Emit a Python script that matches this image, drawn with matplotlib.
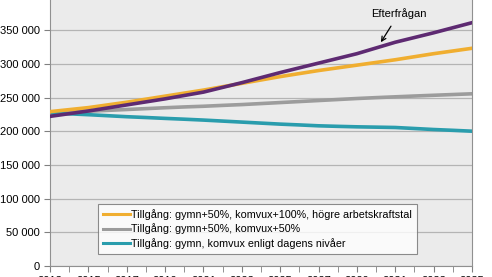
"""Tillgång och efterfrågan 2013-2035, tre tillgångsscenarier mot efterfrågan."""
import numpy as np, matplotlib
matplotlib.use("Agg")
import matplotlib.pyplot as plt
from matplotlib.ticker import MultipleLocator, FuncFormatter

years = list(range(2013, 2036))
efterfragan = [222000, 226000, 230000, 234500, 239000, 243500, 248000, 253000, 258000, 265000,
               272000, 279500, 287000, 294000, 301000, 308000, 315000, 323500, 332000, 339000,
               346000, 353500, 361000]
hog = [229000, 232000, 235000, 239000, 243000, 247500, 252000, 256500, 261000, 266000,
       271000, 276000, 281000, 285500, 290000, 294000, 298000, 302000, 306000, 310500,
       315000, 319000, 323000]
mellan = [227000, 228300, 229600, 230900, 232200, 233500, 234800, 236000, 237000, 238300,
          239500, 241000, 242500, 244000, 245500, 247000, 248500, 249800, 251000, 252200,
          253300, 254400, 255500]
dagens = [227000, 225800, 224500, 223000, 221500, 220300, 219000, 217800, 216500, 215000,
          213500, 212000, 210500, 209300, 208000, 207200, 206500, 206000, 205500, 204000,
          202500, 201300, 200000]
labels = ["Tillgång: gymn+50%, komvux+100%, högre arbetskraftstal",
          "Tillgång: gymn+50%, komvux+50%",
          "Tillgång: gymn, komvux enligt dagens nivåer"]

plt.rcParams.update({"font.family": ["Liberation Sans", "DejaVu Sans"], "font.size": 8})

W, H = 492, 277
fig = plt.figure(figsize=(W / 100, H / 100), dpi=100)
ax = fig.add_axes([50 / W, 11 / H, 422 / W, (266 + 3.6) / H])
ax.set_facecolor("#ebebeb")

ax.plot(years, efterfragan, color="#5e2a72", lw=2.6, zorder=4)
l1, = ax.plot(years, hog, color="#f0ae30", lw=2.6, zorder=3)
l2, = ax.plot(years, mellan, color="#9c9c9c", lw=2.6, zorder=2)
l3, = ax.plot(years, dagens, color="#2a9dad", lw=2.6, zorder=2)

ax.set_xlim(2013, 2035)
ax.set_ylim(0, 400000)
ax.set_xticks(years[::2])
ax.xaxis.set_minor_locator(MultipleLocator(1))
ax.yaxis.set_major_locator(MultipleLocator(50000))
ax.yaxis.set_major_formatter(FuncFormatter(lambda v, p: f"{int(v):,}".replace(",", " ")))
ax.grid(axis="y", color="#b4b4b4", lw=0.9)
ax.set_axisbelow(True)
for s in ["left", "bottom", "right"]:
    ax.spines[s].set_color("#909090")
ax.spines["top"].set_visible(False)
ax.tick_params(axis="both", which="both", direction="out", color="#808080", length=4, labelsize=8)
ax.tick_params(axis="x", which="minor", length=4)

ax.annotate("Efterfrågan", xy=(2030.25, 332000), xytext=(2031.2, 375000),
            ha="center", va="center", fontsize=8,
            arrowprops=dict(arrowstyle="->", color="black", lw=0.9, shrinkA=4, shrinkB=0))

leg = ax.legend([l1, l2, l3], labels, loc="upper left", bbox_to_anchor=(98 / W, 1 - 204 / H),
                bbox_transform=fig.transFigure, fontsize=7.75, frameon=True, fancybox=False,
                borderaxespad=0, borderpad=0.45, labelspacing=0.35, handlelength=2.5,
                handletextpad=0.1)
leg.get_frame().set_edgecolor("#707070")
leg.get_frame().set_linewidth(0.8)
for h in leg.get_lines():
    h.set_linewidth(2.2)

fig.savefig("out.png", dpi=100)
